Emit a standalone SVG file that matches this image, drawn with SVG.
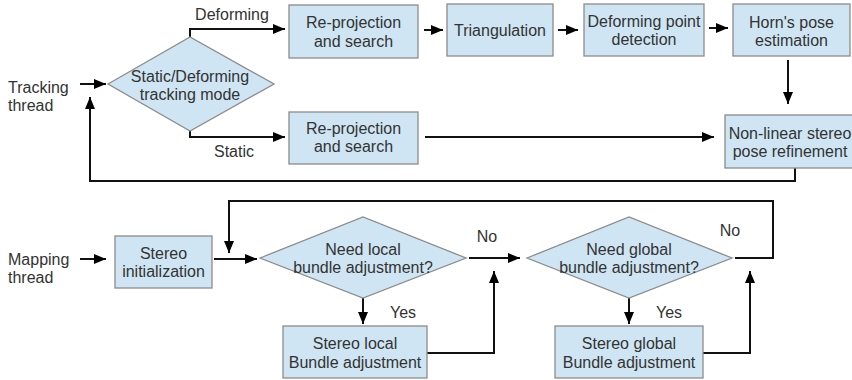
<svg xmlns="http://www.w3.org/2000/svg" width="852" height="380" viewBox="0 0 852 380">
<style>
.n{fill:#cfe5f3;stroke:#8c8c8c;stroke-width:1.3}
.t{font-family:"Liberation Sans",Arial,sans-serif;font-size:16px;fill:#333;text-anchor:middle}
.l{font-family:"Liberation Sans",Arial,sans-serif;font-size:16px;fill:#333}
.c{fill:none;stroke:#111;stroke-width:2}
</style>
<defs>
<marker id="a" viewBox="0 0 12 10" refX="12" refY="5" markerWidth="12" markerHeight="10" markerUnits="userSpaceOnUse" orient="auto">
<path d="M0,0L12,5L0,10z" fill="#000"/>
</marker>
</defs>
<rect width="852" height="380" fill="#fff"/>
<g id="connectors">
<path class="c" d="M80,84H106" marker-end="url(#a)"/>
<path class="c" d="M190,37V29H285" marker-end="url(#a)"/>
<path class="c" d="M190,131V137H285" marker-end="url(#a)"/>
<path class="c" d="M424,30H443" marker-end="url(#a)"/>
<path class="c" d="M558,30H578" marker-end="url(#a)"/>
<path class="c" d="M709,28H728" marker-end="url(#a)"/>
<path class="c" d="M788,60V104" marker-end="url(#a)"/>
<path class="c" d="M425,137H714" marker-end="url(#a)"/>
<path class="c" d="M795,168V181H90V97" marker-end="url(#a)"/>
<path class="c" d="M80,259H106" marker-end="url(#a)"/>
<path class="c" d="M214,259H257" marker-end="url(#a)"/>
<path class="c" d="M735,258H773V201H229V253" marker-end="url(#a)"/>
<path class="c" d="M469,258H520" marker-end="url(#a)"/>
<path class="c" d="M363,298V324" marker-end="url(#a)"/>
<path class="c" d="M629,298V324" marker-end="url(#a)"/>
<path class="c" d="M427,353H494V271" marker-end="url(#a)"/>
<path class="c" d="M703,353H750V271" marker-end="url(#a)"/>
</g>
<g id="labels">
<text class="l" x="8" y="93">Tracking</text>
<text class="l" x="8" y="111">thread</text>
<text class="t" x="232" y="20">Deforming</text>
<text class="t" x="234" y="157">Static</text>
<text class="l" x="8" y="265">Mapping</text>
<text class="l" x="8" y="283">thread</text>
<text class="t" x="487" y="242">No</text>
<text class="t" x="730" y="236">No</text>
<text class="t" x="403" y="318">Yes</text>
<text class="t" x="669" y="318">Yes</text>
</g>
<g id="mode">
<path class="n" d="M108,84L190,37L274,84L190,131Z"/>
<text class="t" x="190" y="82">Static/Deforming</text>
<text class="t" x="190" y="100">tracking mode</text>
</g>
<g id="reproj1">
<rect class="n" x="289" y="5" width="129" height="53"/>
<text class="t" x="353.5" y="28">Re-projection</text>
<text class="t" x="353.5" y="47">and search</text>
</g>
<g id="triang">
<rect class="n" x="447" y="4" width="106" height="52"/>
<text class="t" x="500" y="36">Triangulation</text>
</g>
<g id="defdet">
<rect class="n" x="584" y="4" width="120" height="52"/>
<text class="t" x="644" y="27">Deforming point</text>
<text class="t" x="644" y="45">detection</text>
</g>
<g id="horn">
<rect class="n" x="733" y="4" width="117" height="52"/>
<text class="t" x="791.5" y="28">Horn's pose</text>
<text class="t" x="791.5" y="46">estimation</text>
</g>
<g id="reproj2">
<rect class="n" x="289" y="112" width="129" height="52"/>
<text class="t" x="353.5" y="134">Re-projection</text>
<text class="t" x="353.5" y="152">and search</text>
</g>
<g id="nonlinear">
<rect class="n" x="725" y="115" width="132" height="53"/>
<text class="t" x="790" y="139">Non-linear stereo</text>
<text class="t" x="790" y="157">pose refinement</text>
</g>
<g id="stereoinit">
<rect class="n" x="115" y="236" width="97" height="52"/>
<text class="t" x="163.5" y="259">Stereo</text>
<text class="t" x="163.5" y="277">initialization</text>
</g>
<g id="needlocal">
<path class="n" d="M260,258L363,217L466,258L363,298Z"/>
<text class="t" x="363" y="255">Need local</text>
<text class="t" x="363" y="273">bundle adjustment?</text>
</g>
<g id="needglobal">
<path class="n" d="M527,258L629,217L732,258L629,298Z"/>
<text class="t" x="629" y="255">Need global</text>
<text class="t" x="629" y="273">bundle adjustment?</text>
</g>
<g id="localba">
<rect class="n" x="283" y="326" width="144" height="52"/>
<text class="t" x="355" y="349">Stereo local</text>
<text class="t" x="355" y="368">Bundle adjustment</text>
</g>
<g id="globalba">
<rect class="n" x="555" y="326" width="148" height="52"/>
<text class="t" x="629" y="349">Stereo global</text>
<text class="t" x="629" y="368">Bundle adjustment</text>
</g>
</svg>
